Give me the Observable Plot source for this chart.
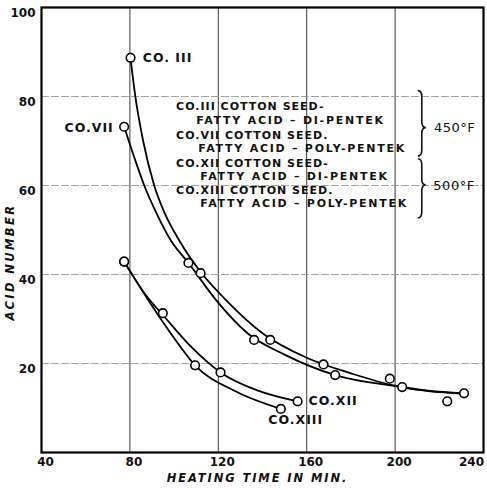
<!DOCTYPE html>
<html>
<head>
<meta charset="utf-8">
<script src="https://cdn.jsdelivr.net/npm/d3@7"></script>
<script src="https://cdn.jsdelivr.net/npm/@observablehq/plot@0.6"></script>
<style>
html, body { margin: 0; padding: 0; background: #fff; }
#chart { width: 487px; height: 490px; }
</style>
</head>
<body>
<div id="chart"></div>
<script>
// ---------- axis ticks ----------
const xTicks = [40, 80, 120, 160, 200, 240];
const yTicks = [20, 40, 60, 80, 100];
const xGrid = [80, 120, 160, 200];
const yGrid = [20, 40, 60, 80];

// ---------- observed points (heating time, min ; acid number) ----------
const co3Time = [80.3, 112.0, 143.5, 167.6, 197.6, 231.2];
const co3Acid = [88.7, 40.3, 25.3, 19.8, 16.6, 13.3];
const co7Time = [77.4, 106.5, 136.2, 172.9, 203.2, 223.6];
const co7Acid = [73.2, 42.6, 25.3, 17.4, 14.7, 11.5];
const co12Time = [77.4, 94.9, 121.0, 155.9];
const co12Acid = [42.9, 31.3, 18.0, 11.5];
const co13Time = [77.4, 109.5, 148.3];
const co13Acid = [42.9, 19.6, 9.8];

// ---------- drawn (smoothed) curves ----------
const co3CurveTime = [80.3, 82.4, 86.0, 91.0, 96.0, 102.4, 111.5, 123.6, 140.3, 160.0, 180.0, 200.0, 215.0, 231.2];
const co3CurveAcid = [88.5, 80.2, 70.0, 60.0, 53.5, 47.6, 40.9, 34.2, 26.7, 21.3, 17.8, 15.0, 13.9, 13.3];
const co7CurveTime = [77.4, 82.0, 86.5, 92.0, 98.6, 106.2, 119.1, 133.5, 150.0, 172.9, 200.0, 215.0, 231.2];
const co7CurveAcid = [73.2, 66.3, 60.0, 53.8, 47.6, 42.8, 34.2, 26.7, 22.0, 17.4, 14.9, 13.8, 13.2];
const co12CurveTime = [77.4, 86.0, 96.5, 108.0, 121.0, 138.0, 155.9];
const co12CurveAcid = [42.9, 36.2, 30.0, 23.6, 18.0, 13.9, 11.5];
const co13CurveTime = [77.4, 88.0, 98.6, 109.5, 128.0, 148.3];
const co13CurveAcid = [42.9, 34.5, 26.7, 19.6, 13.7, 9.8];

// ---------- text ----------
const seriesNames = ["CO.III", "CO.VII", "CO.XII", "CO.XIII"];
const curveLabelsStart = ["CO. III", "CO.XII", "CO.XIII"];
const curveLabelsStartTime = [85.8, 160.8, 142.6];
const curveLabelsStartAcid = [88.6, 11.5, 7.2];
const curveLabelsEnd = ["CO.VII"];
const curveLabelsEndTime = [72.7];
const curveLabelsEndAcid = [73.0];

const legendLines = [
  "CO.III COTTON SEED-",
  "FATTY ACID – DI-PENTEK",
  "CO.VII COTTON SEED.",
  "FATTY ACID – POLY-PENTEK",
  "CO.XII COTTON SEED-",
  "FATTY ACID – DI-PENTEK",
  "CO.XIII COTTON SEED.",
  "FATTY ACID – POLY-PENTEK"
];
const legendTime = [100.9, 110.0, 100.9, 110.9, 100.9, 111.8, 100.9, 111.8];
const legendAcid = [77.7, 74.6, 71.3, 68.3, 64.9, 62.0, 58.8, 56.0];

const tempLabels = ["450°F", "500°F"];
const tempTime = [217.6, 217.3];
const tempAcid = [73.0, 60.0];
const braceTime = [212.3, 212.3];
const braceTop = [81.2, 65.9];
const braceBottom = [66.5, 52.6];
const braceTip = [72.9, 60.0];

const xTitle = "HEATING TIME IN MIN.";
const yTitle = "ACID NUMBER";

// ---------- build tables ----------
function rows(name, ts, as) { return ts.map((t, i) => ({series: name, time: t, acid: as[i]})); }
const obsRows = [
  ...rows(seriesNames[0], co3Time, co3Acid),
  ...rows(seriesNames[1], co7Time, co7Acid),
  ...rows(seriesNames[2], co12Time, co12Acid),
  ...rows(seriesNames[3], co13Time, co13Acid)
];
const curveRows = [
  ...rows(seriesNames[0], co3CurveTime, co3CurveAcid),
  ...rows(seriesNames[1], co7CurveTime, co7CurveAcid),
  ...rows(seriesNames[2], co12CurveTime, co12CurveAcid),
  ...rows(seriesNames[3], co13CurveTime, co13CurveAcid)
];
const startLabelRows = curveLabelsStart.map((s, i) => ({s, time: curveLabelsStartTime[i], acid: curveLabelsStartAcid[i]}));
const endLabelRows = curveLabelsEnd.map((s, i) => ({s, time: curveLabelsEndTime[i], acid: curveLabelsEndAcid[i]}));
const legendRows = legendLines.map((s, i) => ({s, time: legendTime[i], acid: legendAcid[i]}));
const tempRows = tempLabels.map((s, i) => ({s, time: tempTime[i], acid: tempAcid[i]}));

const FONT = "DejaVu Sans, sans-serif";

const plot = Plot.plot({
  width: 487,
  height: 490,
  marginLeft: 41,
  marginRight: 4,
  marginTop: 7,
  marginBottom: 38,
  style: {fontFamily: FONT, fontSize: "12px", fontWeight: "bold", background: "#fff", color: "#111"},
  x: {domain: [40, 240], ticks: xTicks, tickSize: 0, tickPadding: 5, label: null},
  y: {domain: [0, 100], ticks: yTicks, tickSize: 0, tickPadding: 6, label: null},
  marks: [
    Plot.ruleX(xGrid, {stroke: "#222", strokeWidth: 0.9}),
    Plot.ruleY(yGrid, {stroke: "#999", strokeWidth: 0.9, strokeDasharray: "8,2"}),
    Plot.line(curveRows, {x: "time", y: "acid", z: "series", curve: "monotone-x", stroke: "#000", strokeWidth: 1.8}),
    Plot.dot(obsRows, {x: "time", y: "acid", r: 4.3, fill: "#fff", stroke: "#000", strokeWidth: 1.6}),
    Plot.frame({stroke: "#000", strokeWidth: 2.2}),
    Plot.text(startLabelRows, {x: "time", y: "acid", text: "s", textAnchor: "start", fontSize: 12.5, fontWeight: "bold", fill: "#111"}),
    Plot.text(endLabelRows, {x: "time", y: "acid", text: "s", textAnchor: "end", fontSize: 12.5, fontWeight: "bold", fill: "#111"}),
    Plot.text(legendRows, {x: "time", y: "acid", text: "s", textAnchor: "start", fontSize: 11, fontWeight: "bold", fill: "#111"}),
    Plot.text(tempRows, {x: "time", y: "acid", text: "s", textAnchor: "start", fontSize: 13, fontWeight: "normal", fill: "#111"}),
    Plot.text([xTitle], {frameAnchor: "bottom", dx: -5, dy: 29, fontSize: 11.5, fontWeight: "bold", fontStyle: "italic", fill: "#111"}),
    Plot.text([yTitle], {frameAnchor: "left", fontSize: 11.5, fontWeight: "bold", fontStyle: "italic", fill: "#111"})
  ]
});

document.getElementById("chart").appendChild(plot);

// ---------- post-processing: letter spacing, tick label offsets, y title ----------
const svg = d3.select(plot.tagName.toLowerCase() === "svg" ? plot : plot.querySelector("svg"));
const spacing = [1, 1, null, 0.5, 1.9, 2.4];
const textGroups = svg.selectAll('g[aria-label="text"]').nodes();
textGroups.forEach((g, i) => {
  const sel = d3.select(g).selectAll("text");
  if (i === 2) {
    sel.style("letter-spacing", (d, j, nodes) => (j % 2 === 0 ? 1.0 : 1.75) + "px");
  } else {
    sel.style("letter-spacing", (spacing[i] ?? 0) + "px");
  }
});
// rotate the y-axis title
const yTitleGroup = d3.select(textGroups[textGroups.length - 1]);
yTitleGroup.attr("transform", null);
yTitleGroup.selectAll("text")
  .attr("x", null).attr("y", null)
  .attr("text-anchor", "middle")
  .attr("transform", "translate(14,262) rotate(-90)");

svg.selectAll('g[aria-label^="x-axis"] text').attr("dx", (d, i, nodes) => i === nodes.length - 1 ? "-12" : "4");
svg.selectAll('g[aria-label^="y-axis"] text').attr("dy", "0.5em");

// ---------- braces (drawn through the plot's own scales) ----------
let sx, sy;
try { sx = plot.scale("x"); sy = plot.scale("y"); } catch (e) {}
const fx = sx && sx.apply ? (v) => sx.apply(v) : d3.scaleLinear([40, 240], [41, 483]);
const fy = sy && sy.apply ? (v) => sy.apply(v) : d3.scaleLinear([0, 100], [452, 7]);
const braceG = svg.append("g").attr("fill", "none").attr("stroke", "#111").attr("stroke-width", 1.6);
braceTime.forEach((t, i) => {
  const x0 = fx(t), yt = fy(braceTop[i]), yb = fy(braceBottom[i]), ym = fy(braceTip[i]);
  const w = 4, c = 6;
  const p = `M${x0 - w},${yt} Q${x0},${yt} ${x0},${yt + c} L${x0},${ym - c} Q${x0},${ym} ${x0 + w},${ym} Q${x0},${ym} ${x0},${ym + c} L${x0},${yb - c} Q${x0},${yb} ${x0 - w},${yb}`;
  braceG.append("path").attr("d", p);
});
</script>
</body>
</html>
